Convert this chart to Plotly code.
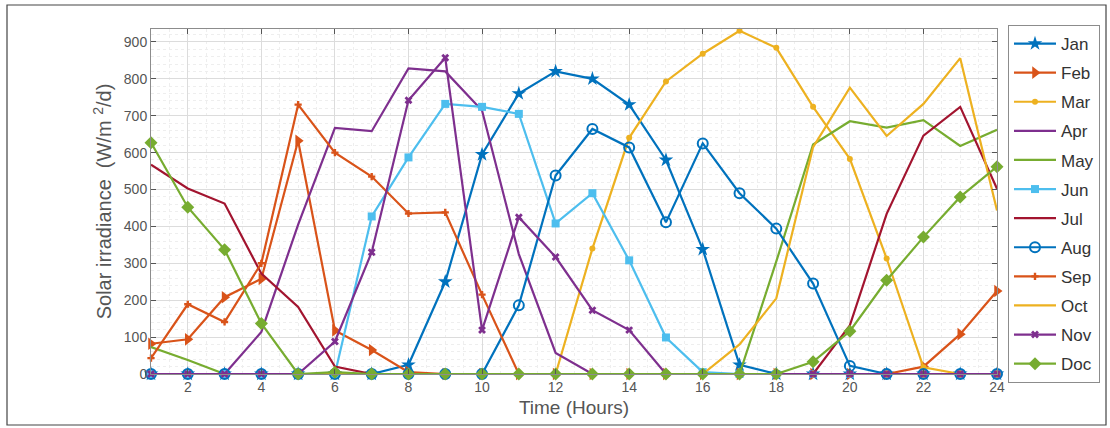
import plotly.graph_objects as go

hours = list(range(1, 25))
months = ["Jan", "Feb", "Mar", "Apr", "May", "Jun", "Jul", "Aug", "Sep", "Oct", "Nov", "Doc"]

jan = [0, 0, 0, 0, 0, 0, 0, 25, 250, 595, 760, 820, 800, 730, 580, 338, 25, 0, 0, 0, 0, 0, 0, 0]
feb = [82, 94, 208, 258, 632, 118, 65, 5, 0, 0, 0, 0, 0, 0, 0, 0, 0, 0, 0, 0, 0, 20, 108, 225]
mar = [0, 0, 0, 0, 0, 0, 0, 0, 0, 0, 0, 0, 340, 640, 793, 868, 930, 884, 724, 583, 313, 18, 0, 0]
apr = [0, 0, 0, 114, 405, 667, 658, 828, 820, 714, 325, 57, 0, 0, 0, 0, 0, 0, 0, 0, 0, 0, 0, 0]
may = [73, 38, 0, 0, 0, 0, 0, 0, 0, 0, 0, 0, 0, 0, 0, 0, 0, 305, 622, 685, 668, 688, 618, 662]
jun = [0, 0, 0, 0, 0, 0, 427, 587, 732, 724, 705, 408, 490, 308, 99, 5, 0, 0, 0, 0, 0, 0, 0, 0]
jul = [567, 503, 462, 272, 182, 20, 0, 0, 0, 0, 0, 0, 0, 0, 0, 0, 0, 0, 0, 132, 434, 646, 724, 502]
aug = [0, 0, 0, 0, 0, 0, 0, 0, 0, 0, 186, 538, 664, 614, 411, 625, 490, 394, 245, 22, 0, 0, 0, 0]
sep = [43, 189, 141, 300, 730, 600, 535, 435, 438, 215, 0, 0, 0, 0, 0, 0, 0, 0, 0, 0, 0, 0, 0, 0]
oct_ = [0, 0, 0, 0, 0, 0, 0, 0, 0, 0, 0, 0, 0, 0, 0, 0, 80, 205, 615, 776, 645, 732, 856, 443]
nov = [0, 0, 0, 0, 0, 88, 330, 742, 857, 119, 425, 317, 173, 119, 0, 0, 0, 0, 0, 0, 0, 0, 0, 0]
doc = [627, 452, 337, 137, 0, 5, 0, 0, 0, 0, 0, 0, 0, 0, 0, 0, 0, 0, 33, 116, 254, 371, 480, 562]

series = [jan, feb, mar, apr, may, jun, jul, aug, sep, oct_, nov, doc]
colors = ["#0072BD", "#D95319", "#EDB120", "#7E2F8E", "#77AC30", "#4DBEEE",
          "#A2142F", "#0072BD", "#D95319", "#EDB120", "#7E2F8E", "#77AC30"]
symbols = ["star", "triangle-right", "circle", None, None, "square",
           None, "circle-open", "cross", None, "x", "diamond"]
sizes = [11, 11, 6, 0, 0, 8, 0, 10, 6, 0, 7, 10]

fig = go.Figure()
for i, (name, vals) in enumerate(zip(months, series)):
    if symbols[i] is None:
        mode = "lines"
        marker = None
    else:
        mode = "lines+markers"
        marker = dict(symbol=symbols[i], size=sizes[i], color=colors[i],
                      line=dict(color=colors[i], width=2 if symbols[i] == "circle-open" else 0))
    fig.add_trace(go.Scatter(
        x=hours, y=vals, name=name, mode=mode,
        line=dict(color=colors[i], width=2.2),
        marker=marker, cliponaxis=False, legendgroup=name,
    ))

axis_common = dict(
    showline=True, linecolor="#8c8c8c", linewidth=1, mirror="ticks",
    ticks="inside", ticklen=5, tickcolor="#555555",
    showgrid=True, gridcolor="#dcdcdc", gridwidth=1,
    zeroline=False,
    tickfont=dict(family="Liberation Sans, Arial", size=14, color="#555555"),
)

fig.update_xaxes(
    range=[1, 24], tickvals=list(range(2, 25, 2)),
    minor=dict(dtick=0.5, tick0=1, showgrid=True, gridcolor="#eeeeee", griddash="dot"),
    title=dict(text="Time (Hours)", font=dict(family="Liberation Sans, Arial", size=19, color="#555555"),
               standoff=6),
    **axis_common,
)
fig.update_yaxes(
    range=[0, 935], tickvals=list(range(0, 1000, 100)),
    minor=dict(dtick=20, showgrid=True, gridcolor="#eeeeee", griddash="dot"),
    title=dict(text="Solar irradiance  (W/m <sup>2</sup>/d)",
               font=dict(family="Liberation Sans, Arial", size=20, color="#555555"), standoff=6),
    **axis_common,
)

fig.update_layout(
    width=1110, height=428,
    margin=dict(l=151, r=113, t=29, b=54, autoexpand=False),
    paper_bgcolor="white", plot_bgcolor="white",
    showlegend=True,
    legend=dict(
        x=1.013, y=1.0116, xanchor="left", yanchor="top",
        bordercolor="#8c8c8c", borderwidth=1, bgcolor="white",
        font=dict(family="Liberation Sans, Arial", size=17, color="#333333"),
        tracegroupgap=4, itemwidth=42, maxheight=400,
    ),
    shapes=[dict(type="rect", xref="paper", yref="paper",
                 x0=(7 - 151) / 846, x1=(1106 - 151) / 846,
                 y0=(374 - 425) / 345, y1=(374 - 5) / 345,
                 line=dict(color="#444444", width=1.2), layer="below")],
)

fig.write_html("out.html")
